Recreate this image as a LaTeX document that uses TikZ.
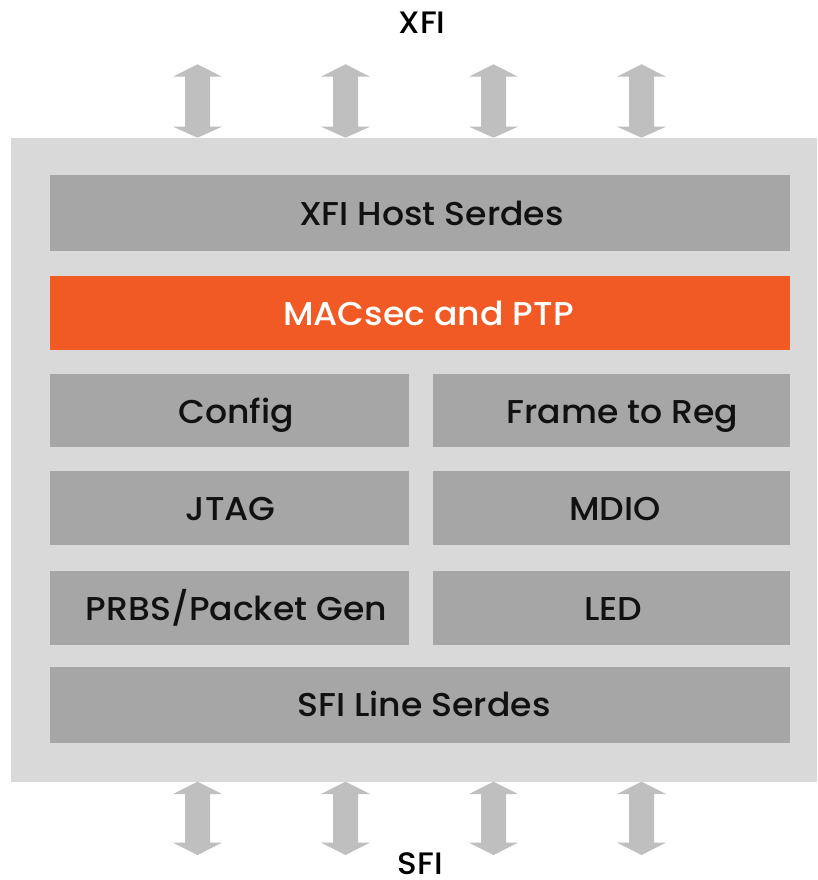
\documentclass[tikz,border=0pt]{standalone}
\usepackage{fontspec}
\setmainfont{Poppins Medium}[FakeStretch=1.05]
\definecolor{outerbg}{HTML}{D9D9D9}
\definecolor{blockgray}{HTML}{A6A6A6}
\definecolor{arrowgray}{HTML}{BFBFBF}
\definecolor{macorange}{HTML}{F15A24}
\definecolor{txt}{HTML}{111111}
\begin{document}
\begin{tikzpicture}[x=1pt,y=-1pt,
  blk/.style={fill=blockgray,draw=none},
  lbl/.style={anchor=base,inner sep=0pt,text=txt,font=\fontsize{33}{38}\selectfont},
  ext/.style={anchor=base,inner sep=0pt,text=black,font=\fontsize{31}{36}\selectfont},
  dbl/.style={fill=arrowgray,draw=none}]
\useasboundingbox (0,0) rectangle (817,880);
% outer box
\fill[outerbg] (11,138) rectangle (817,782);
% blocks
\fill[blk] (50,175) rectangle (790,251);
\fill[macorange] (50,276) rectangle (790,350);
\fill[blk] (50,374) rectangle (409,447);
\fill[blk] (433,374) rectangle (790,447);
\fill[blk] (50,471) rectangle (409,545);
\fill[blk] (433,471) rectangle (790,545);
\fill[blk] (50,571) rectangle (409,645);
\fill[blk] (433,571) rectangle (790,645);
\fill[blk] (50,667) rectangle (790,743);
% labels
\node[lbl] (host) at (431.5,225) {XFI Host Serdes};
\node[lbl,text=white] (mac) at (428.5,325) {MACsec and PTP};
\node[lbl] (cfg) at (236,423) {Config};
\node[lbl] (f2r) at (622.5,423) {Frame to Reg};
\node[lbl] (jtag) at (230.5,520) {JTAG};
\node[lbl] (mdio) at (615,520) {MDIO};
\node[lbl] (prbs) at (236.5,620) {PRBS/Packet Gen};
\node[lbl] (led) at (613.5,620) {LED};
\node[lbl] (sfil) at (424,716) {SFI Line Serdes};
\node[ext] (xfi) at (422,33.3) {XFI};
\node[ext] (sfi) at (420.5,874.5) {SFI};
% double arrows
\foreach \cx in {197.5,345.5,493.5,641.5}{
  \fill[dbl] (\cx,64.3) -- (\cx+24.5,76.7) -- (\cx+12.5,76.7) -- (\cx+12.5,126.7) -- (\cx+24.5,126.7)
    -- (\cx,137.7) -- (\cx-24.5,126.7) -- (\cx-12.5,126.7) -- (\cx-12.5,76.7) -- (\cx-24.5,76.7) -- cycle;
  \fill[dbl] (\cx,781.7) -- (\cx+24.5,794) -- (\cx+12.5,794) -- (\cx+12.5,842.7) -- (\cx+24.5,842.7)
    -- (\cx,855) -- (\cx-24.5,842.7) -- (\cx-12.5,842.7) -- (\cx-12.5,794) -- (\cx-24.5,794) -- cycle;
}
\end{tikzpicture}
\end{document}
